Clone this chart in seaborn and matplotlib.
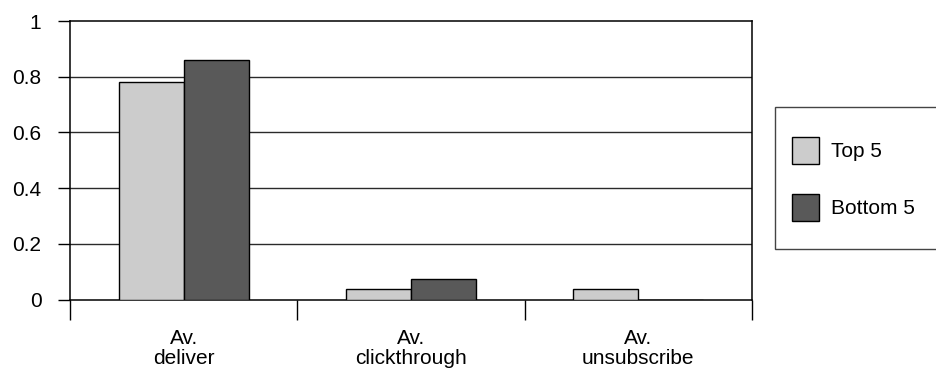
import matplotlib
matplotlib.use("Agg")
import matplotlib.pyplot as plt
import matplotlib.patches as mpatches
import seaborn as sns
import pandas as pd

# Average e-mail metrics for the top and bottom five campaigns
categories = ["Av.\ndeliver", "Av.\nclickthrough", "Av.\nunsubscribe"]
groups = ["Top 5", "Bottom 5"]
top5 = [0.78, 0.038, 0.038]
bottom5 = [0.86, 0.074, 0.0]
colors = ["#cccccc", "#595959"]
y_ticks = [0, 0.2, 0.4, 0.6, 0.8, 1]
y_tick_labels = ["0", "0.2", "0.4", "0.6", "0.8", "1"]

df = pd.DataFrame({
    "metric": categories * 2,
    "group": [groups[0]] * 3 + [groups[1]] * 3,
    "value": top5 + bottom5,
})

sns.set_theme(style="white")
plt.rcParams["font.family"] = ["Liberation Sans", "DejaVu Sans"]
plt.rcParams["text.color"] = "black"
FS = 15

W, H = 937, 370
fig = plt.figure(figsize=(W / 100, H / 100), dpi=100)
x0, x1, ytop, ybot = 70, 752, 21, 299.5
ax = fig.add_axes([x0 / W, (H - ybot) / H, (x1 - x0) / W, (ybot - ytop) / H])

sns.barplot(data=df, x="metric", y="value", hue="group", order=categories,
            hue_order=groups, palette=colors, width=0.573, saturation=1,
            edgecolor="black", linewidth=1, legend=False, ax=ax, zorder=3)

ax.set_xlim(-0.5, 2.5)
ax.set_ylim(0, 1)
ax.set_xlabel("")
ax.set_ylabel("")

# horizontal gridlines
for yv in y_ticks[1:-1]:
    ax.axhline(yv, color="#2a2a2a", lw=1, zorder=1)

for side in ["left", "right", "top", "bottom"]:
    ax.spines[side].set_visible(True)
    ax.spines[side].set_color("black")
    ax.spines[side].set_linewidth(1.1)

ax.set_yticks(y_ticks)
ax.set_yticklabels(y_tick_labels, fontsize=FS, color="black")
ax.tick_params(axis="y", direction="out", length=8.6, width=1, color="black",
               pad=12, left=True)

# category boundaries as major ticks, names as minor tick labels
ax.set_xticks([-0.5, 0.5, 1.5, 2.5])
ax.set_xticklabels([])
ax.set_xticks([0, 1, 2], minor=True)
ax.set_xticklabels(categories, minor=True, fontsize=FS, color="black",
                   linespacing=1.12)
ax.tick_params(axis="x", which="major", direction="out", length=14.4,
               width=1, color="black", bottom=True)
ax.tick_params(axis="x", which="minor", length=0, pad=21, bottom=True)

# legend box
rect = mpatches.Rectangle((775 / W, (H - 249) / H), (945 - 775) / W,
                          (249 - 106.7) / H, transform=fig.transFigure,
                          facecolor="white", edgecolor="#444444", lw=1,
                          clip_on=False)
fig.patches.append(rect)
handles = [mpatches.Patch(facecolor=c, edgecolor="black", lw=1) for c in colors]
fig.legend(handles, groups, loc="upper left",
           bbox_to_anchor=(791.5 / W, (H - 137) / H), frameon=False,
           fontsize=FS, handlelength=1.3, handleheight=1.613,
           handletextpad=0.6, labelspacing=1.45, borderpad=0,
           borderaxespad=0, labelcolor="black")

fig.savefig("out.png", dpi=100, facecolor="white")
